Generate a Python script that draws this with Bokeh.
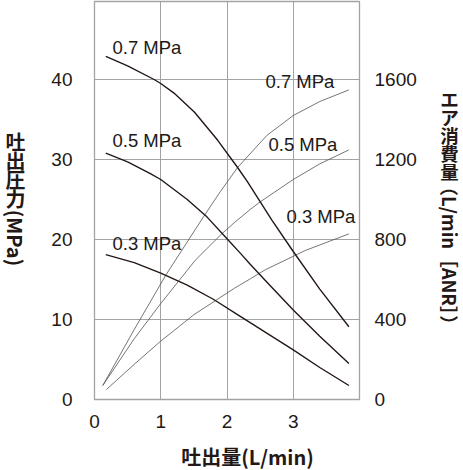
import math
from bokeh.plotting import figure
from bokeh.layouts import row, column
from bokeh.models import Range1d, LinearAxis, Label, FixedTicker
from bokeh.core.properties import value
from bokeh.embed import file_html
from bokeh.resources import INLINE

# ---- data ----
# discharge pressure curves, x = flow (L/min), y = pressure (MPa)
flow_p07 = [0.17, 0.5, 0.9, 1.0, 1.2, 1.51, 1.86, 2.16, 2.31, 2.68, 3.0, 3.4, 3.84]
press_p07 = [42.9, 41.7, 40.0, 39.5, 38.3, 35.9, 32.4, 29.0, 27.2, 22.4, 18.5, 13.8, 9.1]
flow_p05 = [0.17, 0.5, 0.85, 1.0, 1.4, 1.7, 2.0, 2.2, 2.35, 2.6, 3.0, 3.4, 3.84]
press_p05 = [30.8, 29.7, 28.2, 27.5, 25.0, 22.8, 20.1, 18.3, 16.9, 14.7, 11.2, 7.9, 4.5]
flow_p03 = [0.17, 0.6, 1.0, 1.4, 1.8, 2.2, 2.35, 2.6, 3.0, 3.4, 3.84]
press_p03 = [18.1, 17.1, 15.8, 14.3, 12.5, 10.4, 9.6, 8.3, 6.2, 4.0, 1.75]

# air consumption curves, x = flow (L/min), y = air (L/min[ANR])
flow_a07 = [0.125, 0.6, 1.08, 1.65, 1.9, 2.16, 2.6, 3.0, 3.4, 3.84]
air_a07 = [70, 350, 624, 916, 1040, 1160, 1320, 1420, 1490, 1548]
flow_a05 = [0.125, 0.6, 1.0, 1.28, 1.52, 1.92, 2.11, 2.35, 2.5, 3.0, 3.4, 3.84]
air_a05 = [70, 304, 480, 596, 696, 828, 884, 950, 988, 1100, 1178, 1248]
flow_a03 = [0.18, 0.6, 1.0, 1.5, 2.11, 2.35, 2.58, 3.0, 3.18, 3.84]
air_a03 = [50, 176, 292, 424, 556, 603, 649, 716, 745, 828]

x_ticks = [0, 1, 2, 3]
p_ticks = [0, 10, 20, 30, 40]
air_ticks = [0, 400, 800, 1200, 1600]
curve_labels = ["0.7 MPa", "0.5 MPa", "0.3 MPa"]
title_left_cjk = ["吐", "出", "圧", "力"]
title_left_unit = "(MPa)"
title_right_cjk = ["エ", "ア", "消", "費", "量"]
title_right_unit = "（L/min［ANR］）"
title_bottom = "吐出量(L/min)"

INK = "#231815"
GRID = "#a3a3a3"
LATIN = "Liberation Sans"
CJK = "Noto Sans CJK JP"

# page geometry (pixels from the top-left of the window)
W, H = 463, 470
LW, RW = 40, 43          # left / right title strips
TOPH = 432               # height of the upper row
BH = H - TOPH            # bottom title strip
MW = W - LW - RW         # main figure width
FL_PX, FR_PX, FT_PX, FB_PX = 94, 359, 1, 399   # frame edges on the page

X0, X1 = 0, 4
Y0, Y1 = 0, 49.75

main = figure(width=MW, height=TOPH, output_backend="svg", toolbar_location=None,
              x_range=Range1d(X0, X1), y_range=Range1d(Y0, Y1),
              min_border_left=FL_PX - LW, min_border_right=LW + MW - FR_PX,
              min_border_top=FT_PX, min_border_bottom=TOPH - FB_PX,
              background_fill_color="white", border_fill_color="white")
main.extra_y_ranges = {"air": Range1d(Y0 * 40, Y1 * 40)}


def dx(px):
    return X0 + (px - FL_PX) / (FR_PX - FL_PX) * (X1 - X0)


def dy(py):
    return Y0 + (FB_PX - py) / (FB_PX - FT_PX) * (Y1 - Y0)


right_axis = LinearAxis(y_range_name="air")
main.add_layout(right_axis, "right")

main.xaxis.ticker = FixedTicker(ticks=x_ticks)
main.yaxis[0].ticker = FixedTicker(ticks=p_ticks)
right_axis.ticker = FixedTicker(ticks=air_ticks)

for ax in [main.xaxis[0], main.yaxis[0], right_axis]:
    ax.axis_line_color = None
    ax.major_tick_line_color = None
    ax.minor_tick_line_color = None
    ax.major_label_text_font = LATIN
    ax.major_label_text_font_size = "19px"
    ax.major_label_text_color = INK
main.yaxis[0].major_label_standoff = 16
right_axis.major_label_standoff = 9
main.xaxis[0].major_label_standoff = 9

main.xgrid.grid_line_color = GRID
main.ygrid.grid_line_color = GRID
main.outline_line_color = GRID
main.outline_line_width = 1.3

# air consumption (thin)
for fx, ay in [(flow_a07, air_a07), (flow_a05, air_a05), (flow_a03, air_a03)]:
    main.line(fx, ay, y_range_name="air", line_color="#555050", line_width=0.8)
# pressure (thick)
for fx, py_ in [(flow_p07, press_p07), (flow_p05, press_p05), (flow_p03, press_p03)]:
    main.line(fx, py_, line_color=INK, line_width=1.4)

# curve labels (positions in page pixels)
left_pos = [(112, 47), (112, 140), (112, 243)]
right_pos = [(265, 81), (268, 144), (286, 216)]
for txt, (lx, ly) in zip(curve_labels + curve_labels, left_pos + right_pos):
    main.add_layout(Label(x=dx(lx), y=dy(ly), text=txt, text_font=LATIN,
                          text_font_size="18.5px", text_color=INK,
                          text_align="left", text_baseline="middle"))


def strip(width, height, x0, y0):
    f = figure(width=width, height=height, output_backend="svg", toolbar_location=None,
               x_range=Range1d(x0, x0 + width), y_range=Range1d(y0 + height, y0),
               x_axis_type=None, y_axis_type=None, min_border=0,
               outline_line_color=None, background_fill_color="white",
               border_fill_color="white")
    f.grid.visible = False
    return f


# left title: upright kanji stacked, unit rotated clockwise
left = strip(LW, TOPH, 0, 0)
left_cy = [152, 172.5, 193, 213.5]
left.text(x=[15] * len(title_left_cjk), y=left_cy, text=title_left_cjk,
          text_font=value(CJK), text_font_style="bold", text_font_size="20px",
          text_color=INK, text_align="center", text_baseline="middle")
left.text(x=[15], y=[226], text=[title_left_unit], text_font=value(CJK),
          text_font_style="bold", text_font_size="20px", text_color=INK,
          angle=-math.pi / 2, text_align="left", text_baseline="middle")

# right title
right = strip(RW, TOPH, LW + MW, 0)
right_cy = [106, 125.5, 145, 164.5, 184]
right.text(x=[449] * len(title_right_cjk), y=right_cy, text=title_right_cjk,
           text_font=value(CJK), text_font_style="bold", text_font_size="18.5px",
           text_color=INK, text_align="center", text_baseline="middle")
right.text(x=[449], y=[191], text=[title_right_unit], text_font=value(CJK),
           text_font_style="bold", text_font_size="18.5px", text_color=INK,
           angle=-math.pi / 2, text_align="left", text_baseline="middle")

# bottom title
bottom = strip(W, BH, 0, TOPH)
bottom.text(x=[247], y=[455.5], text=[title_bottom], text_font=value(CJK),
            text_font_style="bold", text_font_size="20px", text_color=INK,
            text_align="center", text_baseline="middle")

page = column(row(left, main, right, spacing=0), bottom, spacing=0)

open("out.html", "w").write(file_html(page, INLINE))
